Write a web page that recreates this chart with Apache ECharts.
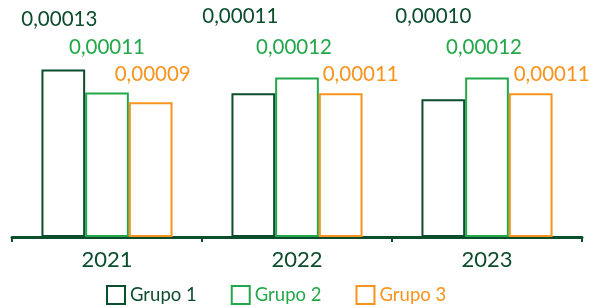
<!DOCTYPE html>
<html>
<head>
<meta charset="utf-8">
<script src="https://cdn.jsdelivr.net/npm/echarts@6/dist/echarts.min.js"></script>
<style>
  html, body { margin: 0; padding: 0; background: #fff; }
  #chart { width: 589px; height: 307px; }
</style>
</head>
<body>
<div id="chart"></div>
<script>
var years = ['2021', '2022', '2023'];
var grupo1 = [0.0001300, 0.0001115, 0.0001068];
var grupo2 = [0.0001122, 0.0001238, 0.0001238];
var grupo3 = [0.0001045, 0.0001115, 0.0001115];
// printed labels (as shown on the chart)
var labels1 = ['0,00013', '0,00011', '0,00010'];
var labels2 = ['0,00011', '0,00012', '0,00012'];
var labels3 = ['0,00009', '0,00011', '0,00011'];

var colors = ['#0b4d2c', '#22a84a', '#f7941d'];
var font = 'Lato';
// labels sit on fixed rows above the bars
var rowY = [[19, 16, 16], [47, 47, 47], [74, 74, 74]];
var nudgeX = [[-4, -13, -10], [0, -3, -3], [2, 20, 21]];

var chart = echarts.init(document.getElementById('chart'));

function makeSeries(name, data, texts, i) {
	return {
		name: name,
		type: 'bar',
		data: data,
		barGap: '0%',
		barCategoryGap: '31%',
		itemStyle: {
			color: '#fff',
			borderColor: colors[i],
			borderWidth: 2
		},
		label: {
			show: true,
			position: 'top',
			fontFamily: font,
			fontSize: 20.5,
			color: colors[i],
			formatter: function (p) {
				return texts[p.dataIndex];
			}
		},
		labelLayout: function (p) {
			return {
				x: p.rect.x + p.rect.width / 2 + nudgeX[i][p.dataIndex],
				y: rowY[i][p.dataIndex],
				align: 'center',
				verticalAlign: 'middle'
			};
		}
	};
}

var option = {
	animation: false,
	grid: { left: 12, right: 7, top: 5, bottom: 70 },
	xAxis: {
		type: 'category',
		data: years,
		axisLine: { lineStyle: { color: colors[0], width: 3 } },
		axisTick: { show: true, length: 5, lineStyle: { color: colors[0], width: 2 } },
		axisLabel: { fontFamily: font, fontSize: 22, color: colors[0], margin: 12 }
	},
	yAxis: {
		type: 'value',
		min: 0,
		max: 0.00018,
		show: false,
		splitLine: { show: false }
	},
	legend: {
		left: 101,
		top: 280,
		itemWidth: 18,
		itemHeight: 18,
		itemGap: 34,
		icon: 'rect',
		textStyle: { fontFamily: font, fontSize: 18.5 },
		data: [
			{ name: 'Grupo 1', textStyle: { color: colors[0] } },
			{ name: 'Grupo 2', textStyle: { color: colors[1] } },
			{ name: 'Grupo 3', textStyle: { color: colors[2] } }
		]
	},
	series: [
		makeSeries('Grupo 1', grupo1, labels1, 0),
		makeSeries('Grupo 2', grupo2, labels2, 1),
		makeSeries('Grupo 3', grupo3, labels3, 2)
	]
};
chart.setOption(option);
</script>
</body>
</html>
